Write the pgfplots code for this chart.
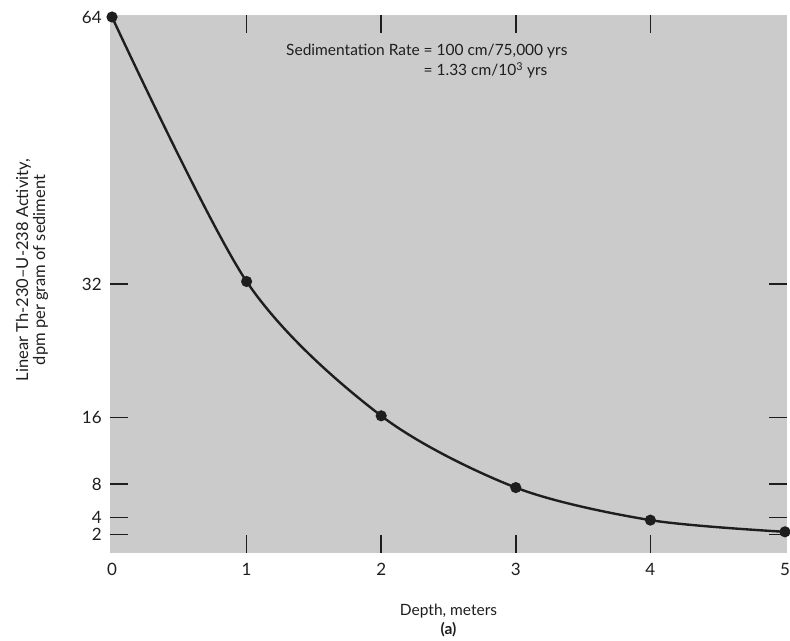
\documentclass[border=0pt]{standalone}
\usepackage{pgfplots}
\pgfplotsset{compat=1.18}
\usepackage{fontspec}
\setmainfont{Lato}
\definecolor{bg}{RGB}{203,203,203}
\definecolor{ink}{RGB}{30,30,30}
\begin{document}
\fontsize{15.5bp}{18bp}\selectfont
\begin{tikzpicture}
\begin{axis}[
  scale only axis, width=677bp, height=538bp,
  xmin=-0.015, xmax=5.015, ymin=-0.24, ymax=64.24,
  axis background/.style={fill=bg},
  axis line style={draw=none},
  clip=false,
  xtick={1,2,3,4}, xticklabels={\mbox{1},\mbox{2},\mbox{3},\mbox{4}},
  ytick={2,4,8,16,32}, yticklabels={\mbox{2},\mbox{4},\mbox{8},\mbox{16},\mbox{32}},
  extra x ticks={0,5}, extra x tick labels={\mbox{0},\mbox{5}},
  extra y ticks={64}, extra y tick labels={\mbox{64}},
  extra tick style={major tick length=0pt},
  tick align=inside, major tick length=18bp,
  every tick/.style={ink, line width=1.6bp},
  /pgf/number format/assume math mode=true,
  ticklabel style={font=\fontsize{17bp}{20bp}\selectfont, text=ink},
  xticklabel style={yshift=-5bp},
  yticklabel style={xshift=-3bp},
  xlabel={Depth, meters\\[1bp]\textbf{(a)}},
  xlabel style={at={(axis description cs:0.5,0)}, anchor=north, yshift=-46bp, align=center, text=ink},
  ylabel={Linear Th-230--U-238 Activity,\\dpm per gram of sediment},
  ylabel style={at={(axis description cs:-0.115,0.526)}, anchor=center, align=center, text=ink,
    font=\fontsize{16.5bp}{17bp}\selectfont},
]
\addplot[smooth, line width=2.4bp, color=ink, mark=*, mark size=4.3bp, mark options={fill=ink}]
  coordinates {(0,64) (1,32.3) (2,16.2) (3,7.6) (4,3.7) (5,2.3)};
\node[anchor=base west, inner sep=0pt, text=ink] at (axis cs:1.293,59.35)
  {\renewcommand{\arraystretch}{1.1}\begin{tabular}[t]{@{}r@{\ }l@{}}
   Sedimentation Rate & = 100 cm/75,000 yrs\\
   & = 1.33 cm/10\textsuperscript{3} yrs
   \end{tabular}};
\coordinate (bl) at (rel axis cs:0,0);
\coordinate (tr) at (rel axis cs:1,1);
\end{axis}
\pgfresetboundingbox
\path[use as bounding box] ([shift={(-110bp,-88bp)}]bl) rectangle ([shift={(3bp,15bp)}]tr);
\end{tikzpicture}
\end{document}
